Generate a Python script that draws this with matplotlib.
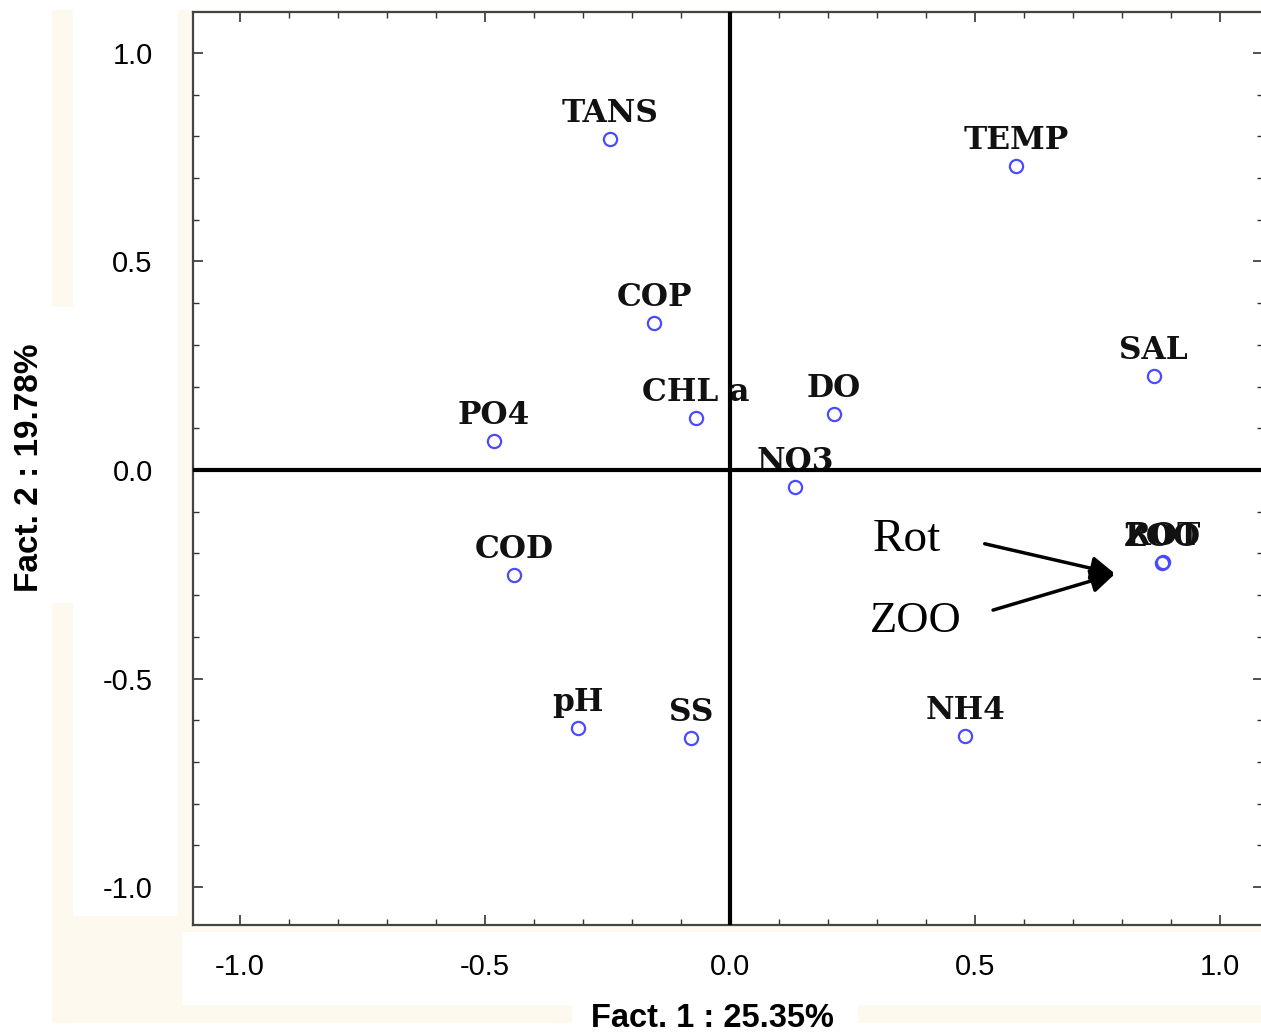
import matplotlib
matplotlib.use("Agg")
import matplotlib.pyplot as plt
from matplotlib.patches import Rectangle
from matplotlib.ticker import MultipleLocator

# ---- data (factor loadings) ----
variables = ["TANS", "TEMP", "COP", "SAL", "CHL a", "DO", "PO4", "NO3",
             "COD", "ZOO", "ROT", "pH", "SS", "NH4"]
fact1 = [-0.245, 0.584, -0.155, 0.865, -0.069, 0.212, -0.482, 0.133,
         -0.441, 0.882, 0.884, -0.310, -0.080, 0.480]
fact2 = [0.794, 0.729, 0.353, 0.225, 0.125, 0.134, 0.070, -0.041,
         -0.252, -0.223, -0.221, -0.619, -0.643, -0.638]
x_ticks = [-1.0, -0.5, 0.0, 0.5, 1.0]
y_ticks = [-1.0, -0.5, 0.0, 0.5, 1.0]
x_title = "Fact. 1 : 25.35%"
y_title = "Fact. 2 : 19.78%"

W, H = 1261, 1036
fig = plt.figure(figsize=(W / 100, H / 100), dpi=100)
fig.patch.set_facecolor("white")

CREAM = "#FEF9EE"


def px_rect(x0, y0, x1, y1, color):
    # rectangle in figure pixel coords (top-left origin)
    fig.patches.append(Rectangle((x0 / W, 1 - y1 / H), (x1 - x0) / W, (y1 - y0) / H,
                                 transform=fig.transFigure, facecolor=color,
                                 edgecolor="none", zorder=-10))


# cream background panels with white label boxes
px_rect(52, 10, 1261, 1005, CREAM)
px_rect(52, 1005, 572, 1023, CREAM)
px_rect(858, 1005, 1261, 1023, CREAM)
px_rect(73, 10, 178, 916, "white")
px_rect(52, 307, 73, 603, "white")
px_rect(182, 932, 1261, 1005, "white")

# axes: left spine at x=193, top at y=12, bottom at y=925, right beyond edge
ax = fig.add_axes([193 / W, (H - 925) / H, (1263 - 193) / W, (925 - 12) / H])
ax.set_facecolor("white")
ax.set_xlim(-1.096, 1.088)
ax.set_ylim(-1.091, 1.098)

for s in ax.spines.values():
    s.set_color("#444444")
    s.set_linewidth(1.6)

ax.xaxis.set_minor_locator(MultipleLocator(0.1))
ax.yaxis.set_minor_locator(MultipleLocator(0.1))
ax.set_xticks(x_ticks)
ax.set_yticks(y_ticks)
ax.set_xticklabels([f"{v:.1f}" for v in x_ticks])
ax.set_yticklabels([f"{v:.1f}" for v in y_ticks])
ax.tick_params(which="both", direction="in", top=True, right=True, color="#333333")
ax.tick_params(which="major", length=7, width=1.2)
ax.tick_params(which="minor", length=4, width=1.0)
ax.tick_params(axis="y", which="major", pad=29)
ax.tick_params(axis="x", which="major", pad=20)
for lab in ax.get_xticklabels() + ax.get_yticklabels():
    lab.set_fontfamily("Liberation Sans")
    lab.set_fontsize(21)
    lab.set_color("black")

# zero lines
ax.axvline(0, color="black", lw=3.0, zorder=4)
ax.axhline(0, color="black", lw=3.0, zorder=4)

# points
ax.plot(fact1, fact2, linestyle="none", marker="o", markersize=9.5,
        markerfacecolor="none", markeredgecolor="#4a4aff", markeredgewidth=1.6,
        zorder=5)
for name, xv, yv in zip(variables, fact1, fact2):
    ax.annotate(name, (xv, yv), xytext=(0, 12), textcoords="offset points",
                ha="center", va="baseline", fontsize=22.5,
                fontfamily="DejaVu Serif", fontweight="bold", color="#111111",
                zorder=3)

# Rot / ZOO annotation
ax.text(0.361, -0.168, "Rot", fontsize=34, fontfamily="Liberation Serif",
        ha="center", va="center", color="black")
ax.text(0.380, -0.362, "ZOO", fontsize=32, fontfamily="Liberation Serif",
        ha="center", va="center", color="black")
arrow = dict(arrowstyle="-|>", lw=2.5, color="black", mutation_scale=36,
             shrinkA=0, shrinkB=0)
ax.annotate("", xy=(0.786, -0.249), xytext=(0.520, -0.177), arrowprops=arrow)
ax.annotate("", xy=(0.786, -0.249), xytext=(0.537, -0.336), arrowprops=arrow)

# axis titles
fig.text(30 / W, 1 - 468 / H, y_title, rotation=90, ha="center", va="center",
         fontsize=24, fontweight="bold", fontfamily="Liberation Sans")
fig.text(712 / W, 1 - 1034 / H, x_title, ha="center", va="bottom",
         fontsize=23.5, fontweight="bold", fontfamily="Liberation Sans")

fig.savefig("out.png", dpi=100)
